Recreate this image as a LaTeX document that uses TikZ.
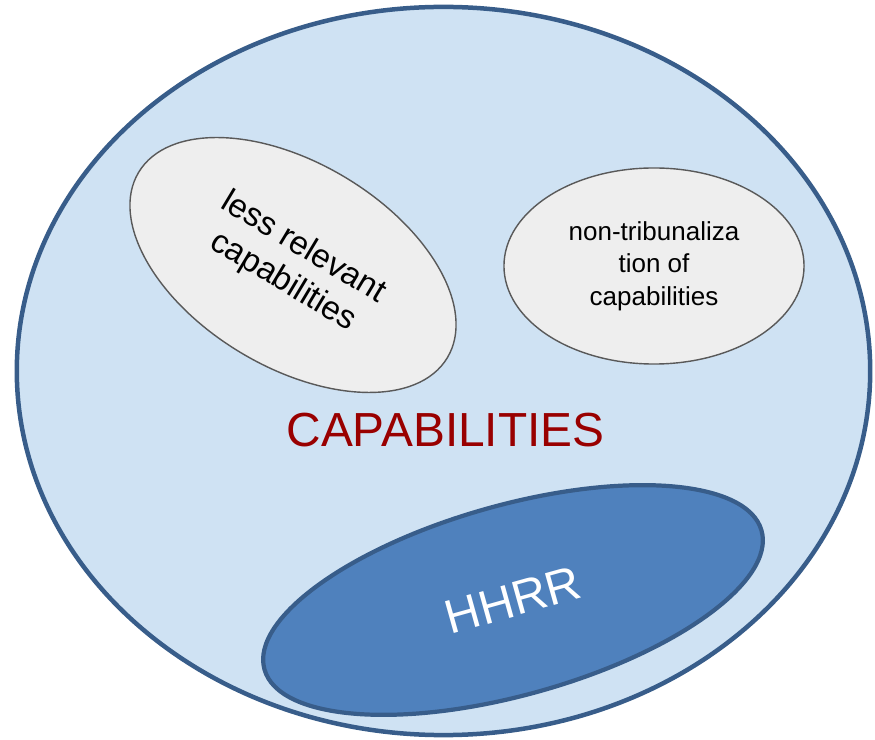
\documentclass[tikz,border=0pt]{standalone}
\usepackage{fontspec}
\setmainfont{Liberation Sans}
\usepackage{tikz}
\usetikzlibrary{shapes.geometric,positioning}
\definecolor{capfill}{HTML}{CFE2F3}
\definecolor{capline}{HTML}{385D8A}
\definecolor{hrfill}{HTML}{4F81BD}
\definecolor{subfill}{HTML}{EEEEEE}
\definecolor{subline}{HTML}{595959}
\definecolor{titlered}{HTML}{990000}

\begin{document}
\begin{tikzpicture}[x=0.025cm, y=-0.025cm]
   \useasboundingbox (0,0) rectangle (875,740);
   \node (capab) [ellipse, draw=capline, fill=capfill, line width=3.2pt,
      minimum width=21.33cm, minimum height=18.2cm] at (443.5,371) {};
   \node (title) [text=titlered, font=\fontsize{34}{40}\selectfont] at (445.5,430) {CAPABILITIES};
   \begin{scope}[every node/.style={ellipse, draw=subline, fill=subfill, line width=1pt, align=center, inner sep=0pt}]
    \node (less) [minimum width=9cm, minimum height=5.1cm, rotate=-31,
      font=\fontsize{23.5}{28}\selectfont] at (293,265) {less relevant\\capabilities};
    \node (nontrib) [minimum width=7.5cm, minimum height=4.9cm,
      font=\fontsize{18.5}{23}\selectfont] at (654,266) {non-tribunaliza\\tion of\\capabilities};
   \end{scope}
   \node (hhrr) [ellipse, draw=capline, fill=hrfill, line width=3pt, text=white,
      minimum width=12.9cm, minimum height=4.75cm, rotate=15.6,
      font=\fontsize{34}{40}\selectfont] at (513,600) {HHRR};
\end{tikzpicture}
\end{document}
